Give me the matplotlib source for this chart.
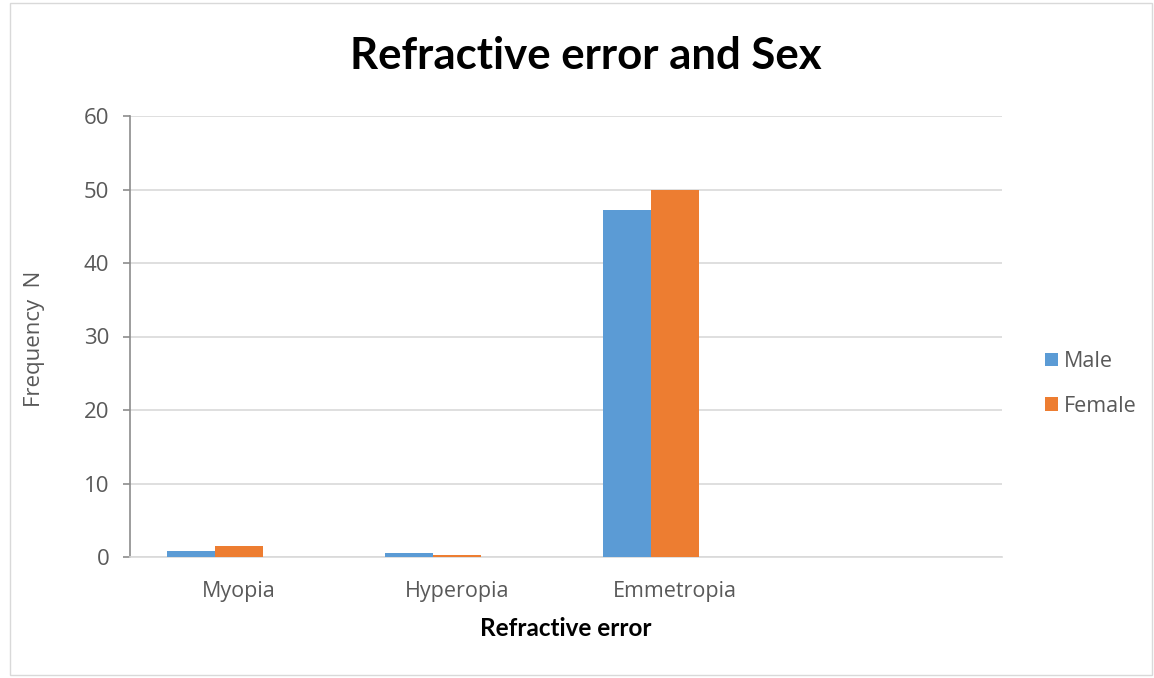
import numpy as np
import matplotlib
matplotlib.use("Agg")
import matplotlib.pyplot as plt
from matplotlib.patches import Rectangle

categories = ["Myopia", "Hyperopia", "Emmetropia", ""]
male = [0.8, 0.5, 47.2, np.nan]
female = [1.5, 0.3, 50.0, np.nan]
series_names = ["Male", "Female"]
y_ticks = [0, 10, 20, 30, 40, 50, 60]

BLUE = "#5B9BD5"
ORANGE = "#ED7D31"
TEXT = "#595959"
GRID = "#D9D9D9"
AXIS = "#8C8C8C"

W, H = 1154, 678
fig = plt.figure(figsize=(W / 100, H / 100), dpi=100)
fig.patch.set_facecolor("white")

# outer chart border
fig.add_artist(Rectangle((10 / W, 3 / H), 1142 / W, 672 / H, transform=fig.transFigure,
                         fill=False, edgecolor=GRID, linewidth=1.0))

ax = fig.add_axes([130 / W, 121 / H, 872 / W, 441 / H])

# three bar slots per category; the third slot is left empty
x = np.arange(len(categories))
bw = 0.2216
ax.bar(x - bw, male, width=bw, color=BLUE, label=series_names[0], zorder=3)
ax.bar(x, female, width=bw, color=ORANGE, label=series_names[1], zorder=3)

ax.set_xlim(-0.5, len(categories) - 0.5)
ax.set_ylim(0, 60)
ax.set_yticks(y_ticks)
ax.set_xticks(x[:3])
ax.set_xticklabels(categories[:3])

ax.grid(axis="y", color=GRID, linewidth=1.2, zorder=0)
ax.set_axisbelow(True)
for s in ["top", "right"]:
    ax.spines[s].set_visible(False)
ax.spines["left"].set_color(AXIS)
ax.spines["left"].set_linewidth(1.2)
ax.spines["bottom"].set_color(GRID)
ax.spines["bottom"].set_linewidth(1.2)

ax.tick_params(axis="y", length=5, width=1.2, color=AXIS, labelcolor=TEXT,
               labelsize=16, pad=10)
ax.tick_params(axis="x", length=0, labelcolor=TEXT, labelsize=15.5, pad=17)
for lab in ax.get_xticklabels() + ax.get_yticklabels():
    lab.set_fontfamily("Open Sans")

ax.set_ylabel("Frequency  N", fontsize=16, color=TEXT, family="Open Sans")
ax.yaxis.set_label_coords(-0.110, 0.494)
ax.yaxis.label.set_va("center")

ax.set_xlabel("Refractive error", fontsize=17.5, fontweight="bold", color="black",
              family="Lato")
ax.xaxis.set_label_coords(0.5, -0.163)
ax.xaxis.label.set_va("center")

fig.text(586 / W, 1 - 56 / H, "Refractive error and Sex", ha="center", va="center",
         fontsize=31.5, fontweight="bold", family="Lato", color="black")

leg = fig.legend(*ax.get_legend_handles_labels(), loc="center left",
                 bbox_to_anchor=(1034 / W, 1 - 384 / H), frameon=False,
                 handlelength=0.6, handleheight=0.6, handletextpad=0.3,
                 labelspacing=1.1, borderpad=0,
                 prop={"family": "Open Sans", "size": 15.5})
for t in leg.get_texts():
    t.set_color(TEXT)

fig.savefig("out.png", dpi=100)
